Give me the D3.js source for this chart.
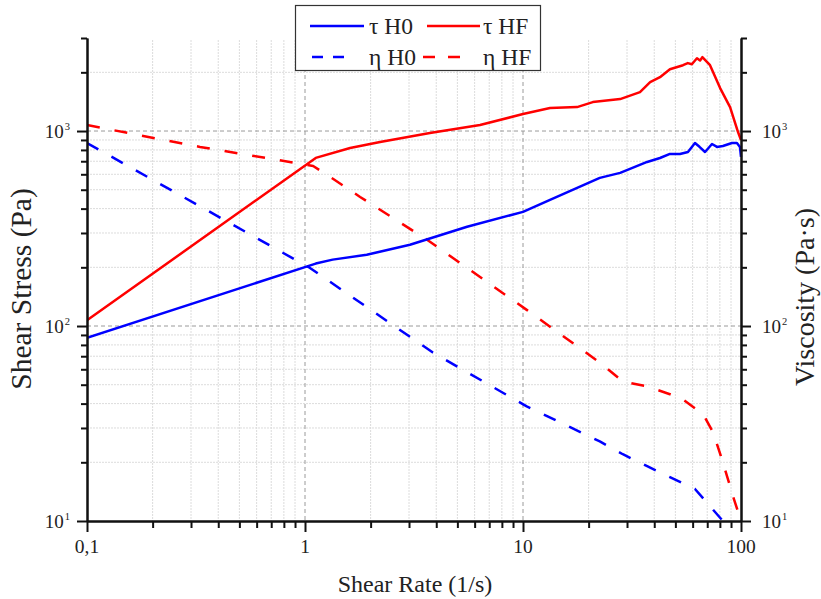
<!DOCTYPE html>
<html><head><meta charset="utf-8">
<script src="https://cdn.jsdelivr.net/npm/d3@7"></script>
<style>
body{margin:0;background:#fff}
svg{display:block}
svg text{font-family:'Liberation Serif','DejaVu Serif',serif;fill:#222}
</style>
</head><body><svg id="c" width="821" height="599" font-family="Liberation Serif, DejaVu Serif, serif"></svg>
<script>
// ---- data ----
const tauH0Rate = [0.1, 1.12, 1.34, 1.92, 3.03, 5.54, 10, 13.3, 22.5, 27.9, 37.1, 42.5, 47.2, 52.5, 57.1, 61.5, 64.5, 68.4, 73.6, 77.6, 82.6, 90.9, 95.8, 98.9, 100];
const tauH0     = [87, 209, 219, 232, 261, 323, 385, 444, 575, 610, 694, 727, 763, 763, 781, 868, 830, 781, 858, 829, 838, 868, 868, 829, 736];

const tauHFRate = [0.1, 1.12, 1.61, 2.21, 3.74, 6.35, 10, 13.3, 17.7, 20.9, 27.9, 34.4, 38.3, 42.5, 47.2, 54.2, 57.0, 59.5, 62.8, 64.9, 66.5, 72.1, 80.2, 89.1, 96.9, 100];
const tauHF     = [107, 728, 819, 879, 977, 1073, 1222, 1312, 1327, 1407, 1458, 1582, 1781, 1888, 2075, 2176, 2230, 2200, 2362, 2300, 2392, 2176, 1660, 1327, 988, 900];

const etaH0Rate = [0.1, 1.05, 3.86, 10.4, 22.5, 28.7, 37.1, 47.2, 61.5, 82.6];
const etaH0     = [868, 199, 73.1, 38.7, 25.6, 22.0, 19.1, 16.8, 14.6, 10];

const etaHFRate = [0.1, 0.33, 1.09, 1.37, 1.79, 3.63, 10.4, 22.5, 28.7, 37.1, 47.2, 54.2, 67.0, 74.5, 82.6, 91.9, 100];
const etaHF     = [1073, 829, 662, 561, 459, 277, 121, 65, 52, 49, 44.7, 42, 35.3, 28.5, 20, 13.4, 10];

const xTickValues = [0.1, 1, 10, 100];
const xTickLabels = ["0,1", "1", "10", "100"];
const yTickValues = [10, 100, 1000];
const yTickExp    = ["1", "2", "3"];
const legendLabels = ["τ H0", "τ HF", "η H0", "η HF"];
const xTitle = "Shear Rate (1/s)";
const yTitleLeft = "Shear Stress (Pa)";
const yTitleRight = "Viscosity (Pa·s)";

// ---- layout ----
const FONT = "'Liberation Serif','DejaVu Serif',serif";
const svg = d3.select("#c");
const L = 87, R = 741, T = 38, B = 521;
const x = d3.scaleLog().domain([0.1, 100]).range([L, R]);
const y = d3.scaleLog().domain([10, 3000]).range([B, T]);

const xMinor = [];
[0.1, 1, 10].forEach(d => { for (let k = 2; k <= 9; k++) xMinor.push(d * k); });
const yMinor = [];
[10, 100, 1000].forEach(d => { for (let k = 2; k <= 9; k++) if (d * k <= 3000) yMinor.push(d * k); });

// minor grid
const grid = svg.append("g");
grid.selectAll(".gvx").data(xMinor).join("line")
  .attr("x1", d => x(d)).attr("x2", d => x(d)).attr("y1", T + 2).attr("y2", B)
  .attr("stroke", "#dcdcdc").attr("stroke-width", 1).attr("stroke-dasharray", "2,1");
grid.selectAll(".gvy").data(yMinor.filter(d => d < 3000)).join("line")
  .attr("x1", L).attr("x2", R).attr("y1", d => y(d)).attr("y2", d => y(d))
  .attr("stroke", "#dcdcdc").attr("stroke-width", 1).attr("stroke-dasharray", "2,1");
// major grid
grid.selectAll(".gmx").data([1, 10]).join("line")
  .attr("x1", d => x(d)).attr("x2", d => x(d)).attr("y1", T + 2).attr("y2", B)
  .attr("stroke", "#9a9a9a").attr("stroke-width", 1).attr("stroke-dasharray", "4,3");
grid.selectAll(".gmy").data([100, 1000]).join("line")
  .attr("x1", L).attr("x2", R).attr("y1", d => y(d)).attr("y2", d => y(d))
  .attr("stroke", "#9a9a9a").attr("stroke-width", 1).attr("stroke-dasharray", "4,3");

// series
svg.append("clipPath").attr("id", "clip").append("rect")
  .attr("x", L).attr("y", T - 5).attr("width", R - L + 3).attr("height", B - T + 6);
const line = d3.line().x(d => x(d[0])).y(d => y(d[1]));
const series = [
  {r: etaH0Rate, v: etaH0, c: "#0000ff", dash: "13,15"},
  {r: etaHFRate, v: etaHF, c: "#ff0000", dash: "13,15"},
  {r: tauH0Rate, v: tauH0, c: "#0000ff", dash: null},
  {r: tauHFRate, v: tauHF, c: "#ff0000", dash: null}
];
const plot = svg.append("g").attr("clip-path", "url(#clip)");
series.forEach(s => {
  plot.append("path").datum(s.r.map((r, i) => [r, s.v[i]]))
    .attr("d", line).attr("fill", "none").attr("stroke", s.c)
    .attr("stroke-width", 2.5).attr("stroke-linejoin", "round")
    .attr("stroke-dasharray", s.dash);
});

// axes
function styleAxis(g) {
  g.selectAll("path.domain").attr("stroke", "#111").attr("stroke-width", 2);
  g.selectAll(".tick line").attr("stroke", "#111").attr("stroke-width", 2);
  g.selectAll(".tick text").remove();
}
svg.append("g").attr("transform", `translate(0,${B})`)
  .call(d3.axisBottom(x).tickValues(xMinor).tickSize(7).tickSizeOuter(0).tickFormat(""))
  .call(styleAxis);
svg.append("g").attr("transform", `translate(0,${B})`)
  .call(d3.axisBottom(x).tickValues(xTickValues).tickSize(11).tickSizeOuter(0).tickFormat(""))
  .call(styleAxis);
svg.append("g").attr("transform", `translate(${L},0)`)
  .call(d3.axisLeft(y).tickValues(yMinor).tickSize(6).tickSizeOuter(0).tickFormat(""))
  .call(styleAxis);
svg.append("g").attr("transform", `translate(${L},0)`)
  .call(d3.axisLeft(y).tickValues(yTickValues).tickSize(10).tickSizeOuter(0).tickFormat(""))
  .call(styleAxis);
svg.append("g").attr("transform", `translate(${R},0)`)
  .call(d3.axisRight(y).tickValues(yMinor).tickSize(6).tickSizeOuter(0).tickFormat(""))
  .call(styleAxis);
svg.append("g").attr("transform", `translate(${R},0)`)
  .call(d3.axisRight(y).tickValues(yTickValues).tickSize(10).tickSizeOuter(0).tickFormat(""))
  .call(styleAxis);

// tick labels
svg.selectAll(".xl").data(xTickValues).join("text")
  .attr("x", d => x(d)).attr("y", B + 32).attr("text-anchor", "middle")
  .style("font-family", FONT).attr("font-size", 19.5).text((d, i) => xTickLabels[i]);

function yLabel(xPos, anchor) {
  yTickValues.forEach((v, i) => {
    const t = svg.append("text").attr("x", xPos).attr("y", y(v) + 6.5)
      .attr("text-anchor", anchor).style("font-family", FONT).attr("font-size", 19);
    t.append("tspan").text("10");
    t.append("tspan").attr("font-size", 10.5).attr("dy", -8).attr("dx", 1).text(yTickExp[i]);
  });
}
yLabel(70, "end");
yLabel(762, "start");

// titles
svg.append("text").attr("x", 415).attr("y", 592).attr("text-anchor", "middle")
  .style("font-family", FONT).attr("font-size", 24).text(xTitle);
svg.append("text").attr("transform", `translate(31,289) rotate(-90)`)
  .attr("text-anchor", "middle").style("font-family", FONT).attr("font-size", 29.5).text(yTitleLeft);
svg.append("text").attr("transform", `translate(814,297) rotate(-90)`)
  .attr("text-anchor", "middle").style("font-family", FONT).attr("font-size", 28).text(yTitleRight);

// legend
const lg = svg.append("g");
lg.append("rect").attr("x", 295.5).attr("y", 5.5).attr("width", 245).attr("height", 65)
  .attr("fill", "#fff").attr("stroke", "#333").attr("stroke-width", 1.2);
const items = [
  {x1: 310, x2: 364, y: 26, c: "#0000ff", dash: null, tx: 369},
  {x1: 427, x2: 480, y: 26, c: "#ff0000", dash: null, tx: 483},
  {x1: 312, x2: 346, y: 57, c: "#0000ff", dash: "11,10", tx: 369},
  {x1: 423, x2: 461, y: 57, c: "#ff0000", dash: "12,13", tx: 483}
];
items.forEach((it, i) => {
  lg.append("line").attr("x1", it.x1).attr("x2", it.x2).attr("y1", it.y).attr("y2", it.y)
    .attr("stroke", it.c).attr("stroke-width", 2.5).attr("stroke-dasharray", it.dash);
  lg.append("text").attr("x", it.tx).attr("y", it.y + 7.5).style("font-family", FONT).attr("font-size", 23.5)
    .text(legendLabels[i]);
});
</script>
</body></html>
